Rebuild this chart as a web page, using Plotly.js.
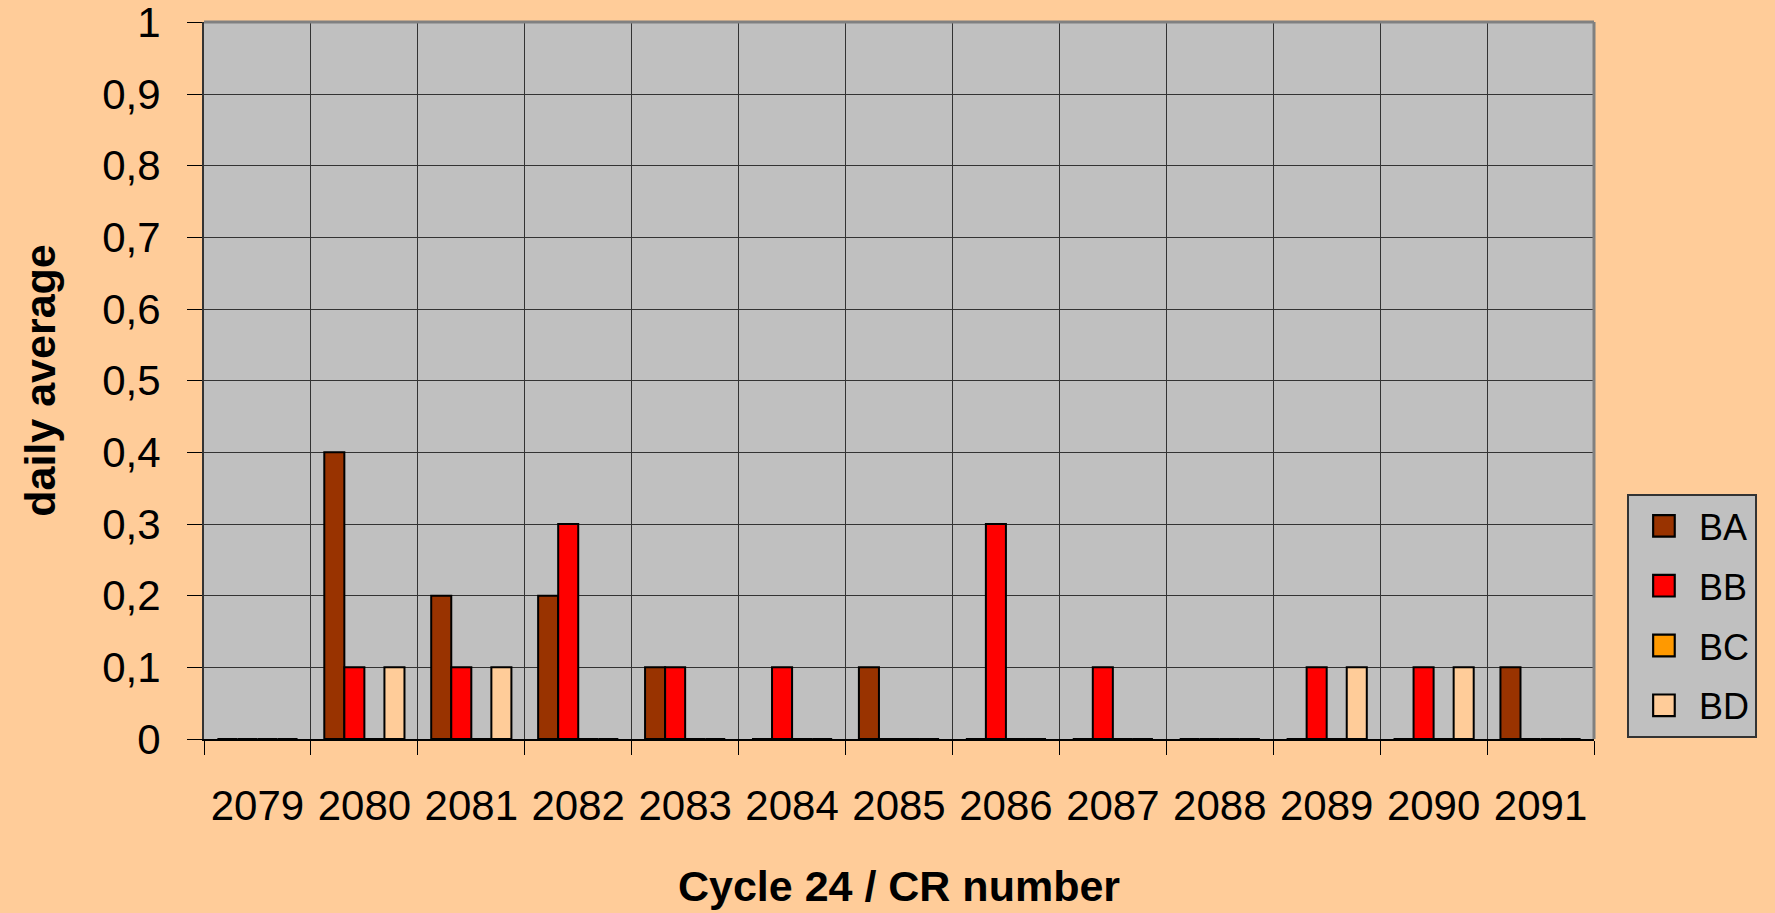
<!DOCTYPE html>
<html>
<head>
<meta charset="utf-8">
<script src="https://cdn.plot.ly/plotly-3.0.1.min.js"></script>
<style>
  html, body { margin: 0; padding: 0; background: #FFCC99; }
  #chart { width: 1775px; height: 913px; }
</style>
</head>
<body>
<div id="chart"></div>
<script>
// CR numbers (cycle 24)
var crNumbers = ["2079", "2080", "2081", "2082", "2083", "2084", "2085",
                 "2086", "2087", "2088", "2089", "2090", "2091"];

// daily averages per class
var baValues = [0, 0.4, 0.2, 0.2, 0.1, 0, 0.1, 0, 0, 0, 0, 0, 0.1];
var bbValues = [0, 0.1, 0.1, 0.3, 0.1, 0.1, 0, 0.3, 0.1, 0, 0.1, 0.1, 0];
var bcValues = [0, 0, 0, 0, 0, 0, 0, 0, 0, 0, 0, 0, 0];
var bdValues = [0, 0.1, 0.1, 0, 0, 0, 0, 0, 0, 0, 0.1, 0.1, 0];

var yTicks = [0, 0.1, 0.2, 0.3, 0.4, 0.5, 0.6, 0.7, 0.8, 0.9, 1];
var yTickText = ["0", "0,1", "0,2", "0,3", "0,4", "0,5", "0,6", "0,7", "0,8", "0,9", "1"];

var seriesNames = ["BA", "BB", "BC", "BD"];
var seriesColors = ["#993300", "#FF0000", "#FF9900", "#FFCC99"];
var seriesValues = [baValues, bbValues, bcValues, bdValues];

var data = seriesValues.map((vals, i) => ({
    x: crNumbers,
    y: vals,
    name: seriesNames[i],
    legendgroup: seriesNames[i],
    type: "bar",
    marker: {color: seriesColors[i], line: {color: "#000000", width: 2}}
}));

var font = "Liberation Sans, Arial, sans-serif";

var layout = {
    width: 1775,
    height: 913,
    paper_bgcolor: "#FFCC99",
    plot_bgcolor: "#C0C0C0",
    margin: {l: 204, r: 181, t: 22, b: 174},
    barmode: "group",
    bargap: 0.25,
    bargroupgap: 0,
    font: {family: font, color: "#000000"},
    xaxis: {
        type: "category",
        tickson: "boundaries",
        ticks: "outside",
        ticklen: 14,
        tickcolor: "#000000",
        tickwidth: 1,
        showgrid: true,
        gridcolor: "#333333",
        gridwidth: 1,
        showline: true,
        linecolor: "#000000",
        linewidth: 2,
        tickfont: {size: 42},
        ticklabelstandoff: 29,
        title: {text: "Cycle 24 / CR number", font: {size: 43, family: font, weight: "bold"}, standoff: 42}
    },
    yaxis: {
        range: [0, 1.0005],
        tickmode: "array",
        tickvals: yTicks,
        ticktext: yTickText,
        ticklabeloverflow: "allow",
        ticks: "outside",
        ticklen: 15,
        tickcolor: "#000000",
        tickwidth: 1,
        showgrid: true,
        gridcolor: "#333333",
        gridwidth: 1,
        zeroline: false,
        showline: true,
        linecolor: "#333333",
        linewidth: 2,
        tickfont: {size: 42},
        ticklabelstandoff: 18,
        title: {text: "daily average", font: {size: 43, family: font, weight: "bold"}, standoff: 33}
    },
    showlegend: true,
    legend: {
        x: 1.0237,
        xanchor: "left",
        y: 0.3417,
        yanchor: "top",
        bgcolor: "#C0C0C0",
        bordercolor: "#333333",
        borderwidth: 2,
        traceorder: "grouped",
        tracegroupgap: 10,
        itemwidth: 60,
        font: {size: 36}
    },
    shapes: [
        {type: "line", xref: "paper", yref: "paper", x0: 0, x1: 1, y0: 1, y1: 1,
         line: {color: "#808080", width: 3}},
        {type: "line", xref: "paper", yref: "paper", x0: 1, x1: 1, y0: 0, y1: 1,
         line: {color: "#808080", width: 3}}
    ]
};

Plotly.newPlot("chart", data, layout, {displayModeBar: false}).then(gd => {
    // bigger legend swatches, like the original
    gd.querySelectorAll(".legend .legendpoints path").forEach(p => {
        var t = p.getAttribute("transform") || "";
        p.setAttribute("transform", t + " scale(1.8)");
        p.style.strokeWidth = "1.2px";
    });
});
</script>
</body>
</html>
